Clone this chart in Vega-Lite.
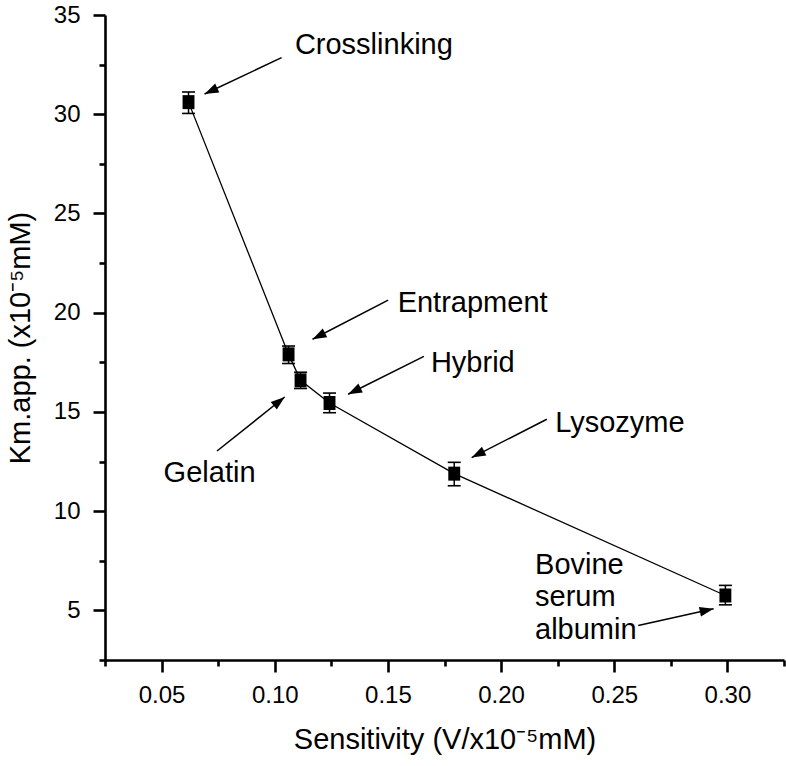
{
  "$schema": "https://vega.github.io/schema/vega-lite/v6.json",
  "width": 679,
  "height": 645,
  "autosize": {"type": "none"},
  "padding": {"left": 105, "top": 15, "right": 2, "bottom": 106},
  "background": "white",
  "config": {
    "view": {"stroke": null},
    "font": "Liberation Sans",
    "axis": {
      "grid": false,
      "domainColor": "black",
      "domainWidth": 2.6,
      "tickColor": "black",
      "tickWidth": 2.6,
      "labelColor": "black",
      "labelFont": "Liberation Sans",
      "labelFontSize": 24,
      "titleFont": "Liberation Sans",
      "titleFontSize": 29,
      "titleFontWeight": "normal",
      "titleColor": "black"
    }
  },
  "datasets": {
    "points": [
      {"method": "Crosslinking", "sens": 0.0619, "km": 30.61, "lo": 30.04, "hi": 31.12},
      {"method": "Entrapment", "sens": 0.1061, "km": 17.9, "lo": 17.44, "hi": 18.32},
      {"method": "Gelatin", "sens": 0.1114, "km": 16.59, "lo": 16.18, "hi": 17.0},
      {"method": "Hybrid", "sens": 0.1242, "km": 15.45, "lo": 14.96, "hi": 15.95},
      {"method": "Lysozyme", "sens": 0.1793, "km": 11.89, "lo": 11.28, "hi": 12.46},
      {"method": "Bovine serum albumin", "sens": 0.2991, "km": 5.75, "lo": 5.28, "hi": 6.26}
    ],
    "arrows": [
      {"label": "Crosslinking", "tx": 0.103, "ty": 32.85, "hx": 0.069, "hy": 31.02},
      {"label": "Entrapment", "tx": 0.1501, "ty": 20.63, "hx": 0.1167, "hy": 18.66},
      {"label": "Hybrid", "tx": 0.1659, "ty": 17.8, "hx": 0.1324, "hy": 15.89},
      {"label": "Gelatin", "tx": 0.0745, "ty": 13.03, "hx": 0.1044, "hy": 15.75},
      {"label": "Lysozyme", "tx": 0.2202, "ty": 14.63, "hx": 0.187, "hy": 12.7},
      {"label": "Bovine serum albumin", "tx": 0.2606, "ty": 4.24, "hx": 0.2939, "hy": 5.08}
    ],
    "labels": [
      {"text": "Crosslinking", "lx": 0.1089, "ly": 33.49},
      {"text": "Entrapment", "lx": 0.1543, "ly": 20.48},
      {"text": "Hybrid", "lx": 0.169, "ly": 17.45},
      {"text": "Gelatin", "lx": 0.0509, "ly": 11.9},
      {"text": "Lysozyme", "lx": 0.2239, "ly": 14.43},
      {"text": "Bovine\nserum\nalbumin", "lx": 0.215, "ly": 7.31}
    ]
  },
  "layer": [
    {
      "data": {"name": "points"},
      "mark": {"type": "line", "color": "black", "strokeWidth": 1.3},
      "encoding": {
        "x": {
          "field": "sens", "type": "quantitative",
          "scale": {"domain": [0.025, 0.325], "nice": false, "zero": false},
          "axis": {
            "title": "Sensitivity (V/x10⁻⁵mM)",
            "values": [0.025, 0.05, 0.075, 0.1, 0.125, 0.15, 0.175, 0.2, 0.225, 0.25, 0.275, 0.3, 0.325],
            "labelExpr": "round(datum.value*40) % 2 == 0 ? format(datum.value, '.2f') : ''",
            "tickSize": {"condition": {"test": "round(datum.value*40) % 2 == 0", "value": 12}, "value": 6},
            "domainWidth": 2.6,
            "tickWidth": 2.6,
            "labelPadding": 11,
            "labelFlush": false,
            "labelOverlap": false,
            "titlePadding": 18
          }
        },
        "y": {
          "field": "km", "type": "quantitative",
          "scale": {"domain": [2.5, 35], "nice": false, "zero": false},
          "axis": {
            "title": "Km.app. (x10⁻⁵mM)",
            "values": [2.5, 5, 7.5, 10, 12.5, 15, 17.5, 20, 22.5, 25, 27.5, 30, 32.5, 35],
            "labelExpr": "round(datum.value*2) % 10 == 0 ? format(datum.value, 'd') : ''",
            "tickSize": {"condition": {"test": "round(datum.value*2) % 10 == 0", "value": 12}, "value": 6},
            "domainWidth": 2.6,
            "tickWidth": 2.6,
            "labelPadding": 13,
            "labelFlush": false,
            "labelOverlap": false,
            "titlePadding": 18
          }
        }
      }
    },
    {
      "data": {"name": "points"},
      "mark": {"type": "rule", "color": "black", "strokeWidth": 1.5},
      "encoding": {
        "x": {"field": "sens", "type": "quantitative"},
        "y": {"field": "lo", "type": "quantitative"},
        "y2": {"field": "hi"}
      }
    },
    {
      "data": {"name": "points"},
      "mark": {"type": "tick", "orient": "horizontal", "color": "black", "size": 13, "thickness": 1.6, "opacity": 1},
      "encoding": {
        "x": {"field": "sens", "type": "quantitative"},
        "y": {"field": "lo", "type": "quantitative"}
      }
    },
    {
      "data": {"name": "points"},
      "mark": {"type": "tick", "orient": "horizontal", "color": "black", "size": 13, "thickness": 1.6, "opacity": 1},
      "encoding": {
        "x": {"field": "sens", "type": "quantitative"},
        "y": {"field": "hi", "type": "quantitative"}
      }
    },
    {
      "data": {"name": "points"},
      "mark": {"type": "point", "shape": "M-0.85,-1L0.85,-1L0.85,1L-0.85,1Z", "filled": true, "color": "black", "size": 196, "opacity": 1},
      "encoding": {
        "x": {"field": "sens", "type": "quantitative"},
        "y": {"field": "km", "type": "quantitative"}
      }
    },
    {
      "data": {"name": "arrows"},
      "mark": {"type": "rule", "color": "black", "strokeWidth": 1.5},
      "encoding": {
        "x": {"field": "tx", "type": "quantitative"},
        "y": {"field": "ty", "type": "quantitative"},
        "x2": {"field": "hx"},
        "y2": {"field": "hy"}
      }
    },
    {
      "data": {"name": "arrows"},
      "transform": [
        {"calculate": "atan2((datum.hx - datum.tx) * 2260, (datum.hy - datum.ty) * 19.83) * 180 / PI", "as": "ang"}
      ],
      "mark": {"type": "point", "shape": "M0,0L-0.7,2L0.7,2Z", "filled": true, "color": "black", "size": 196, "opacity": 1},
      "encoding": {
        "x": {"field": "hx", "type": "quantitative"},
        "y": {"field": "hy", "type": "quantitative"},
        "angle": {"field": "ang", "type": "quantitative", "scale": null}
      }
    },
    {
      "data": {"name": "labels"},
      "mark": {"type": "text", "align": "left", "baseline": "middle", "fontSize": 29, "color": "black", "lineBreak": "\n", "lineHeight": 32.5, "font": "Liberation Sans"},
      "encoding": {
        "x": {"field": "lx", "type": "quantitative"},
        "y": {"field": "ly", "type": "quantitative"},
        "text": {"field": "text"}
      }
    }
  ]
}
